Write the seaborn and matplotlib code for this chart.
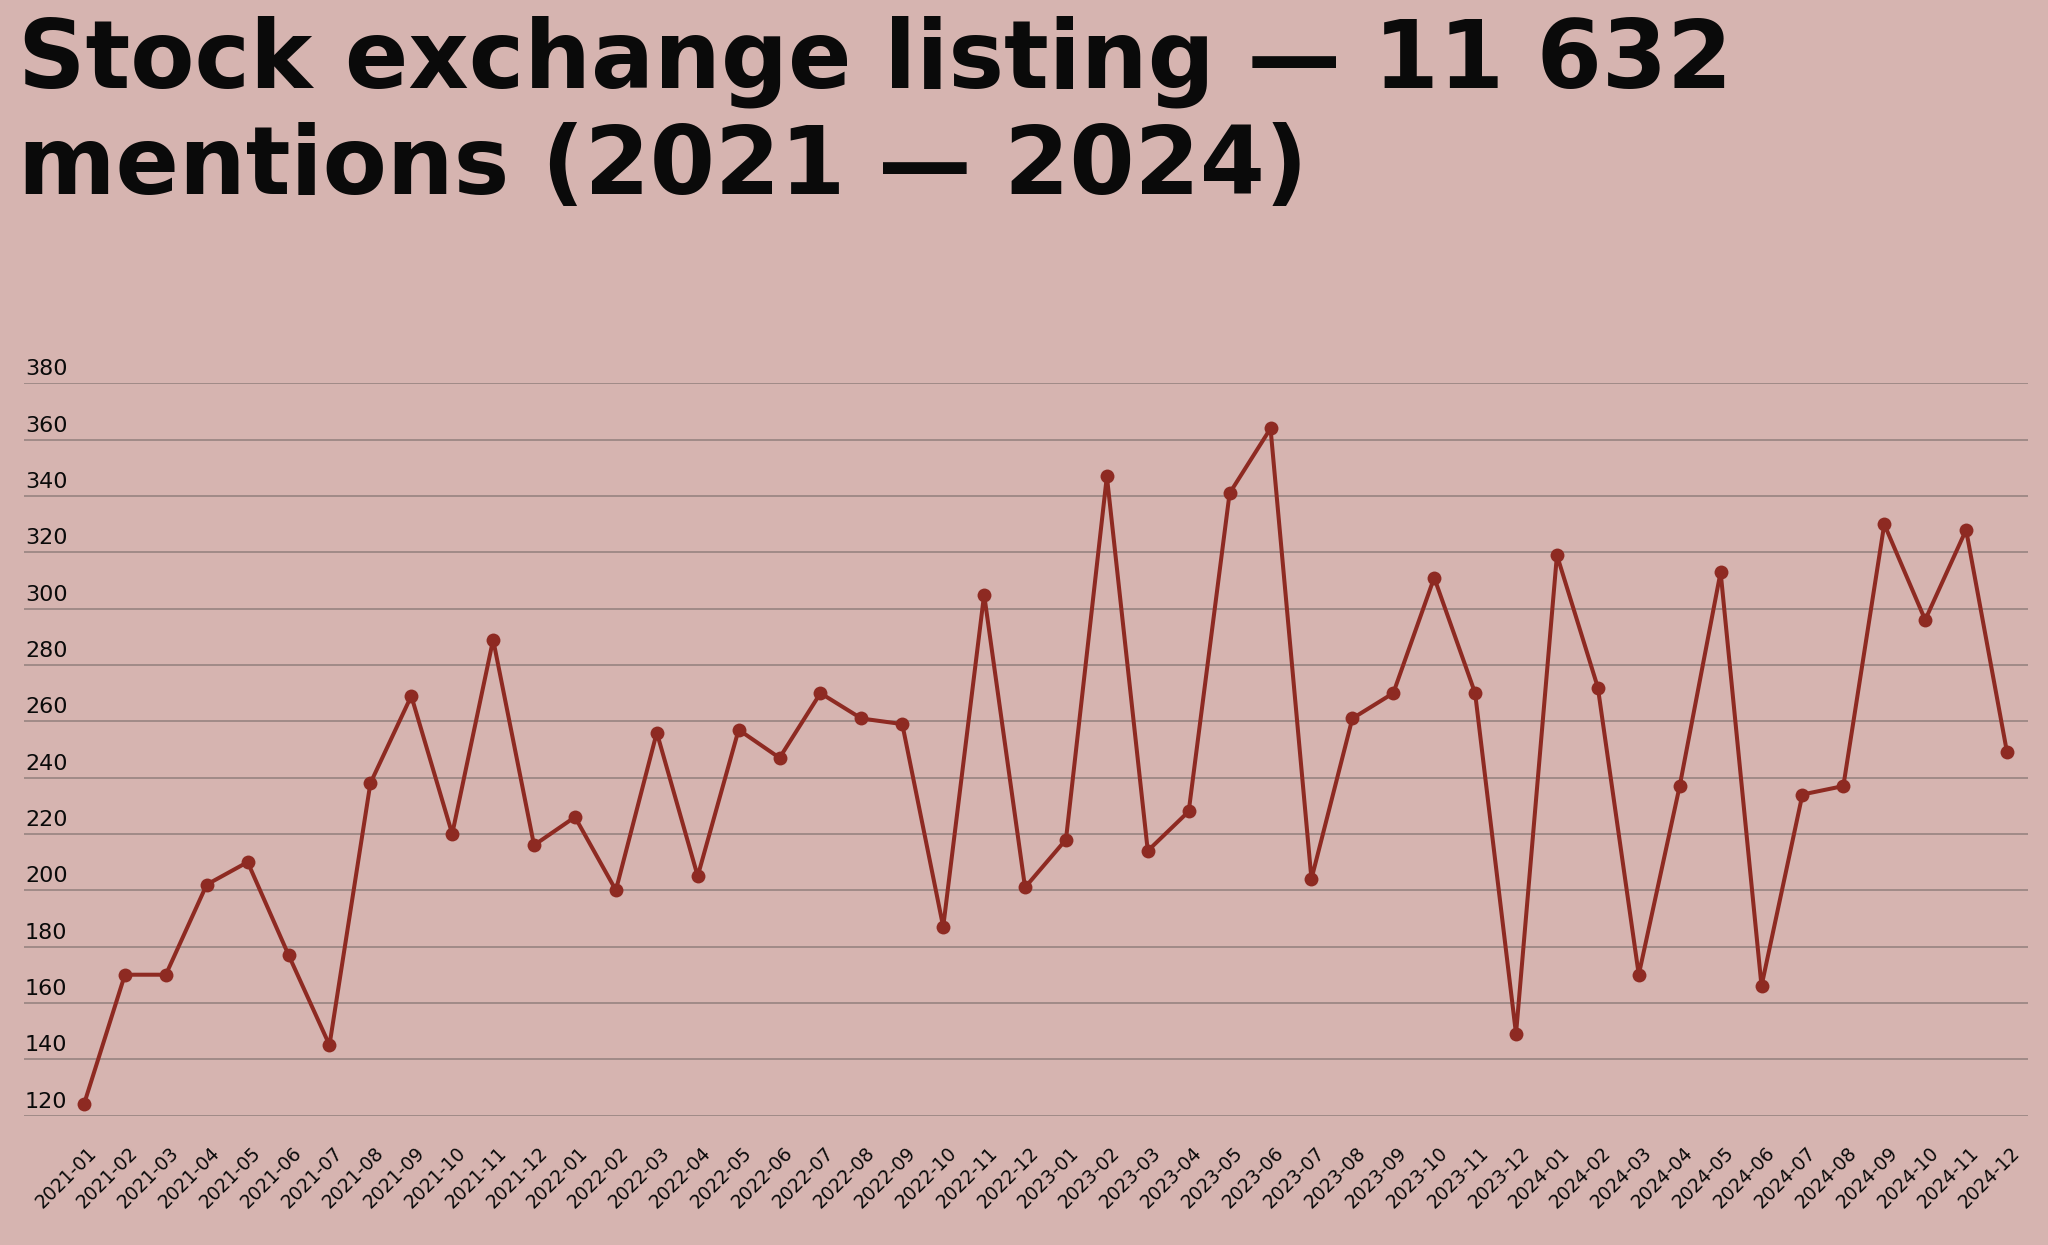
import numpy as np
import pandas as pd
import matplotlib
matplotlib.use("Agg")
import matplotlib.pyplot as plt
import matplotlib.transforms as mtransforms
import seaborn as sns

# ---- data ----
months = [f"{y}-{m:02d}" for y in (2021, 2022, 2023, 2024) for m in range(1, 13)]
mentions_2021 = [124, 170, 170, 202, 210, 177, 145, 238, 269, 220, 289, 216]
mentions_2022 = [226, 200, 256, 205, 257, 247, 270, 261, 259, 187, 305, 201]
mentions_2023 = [218, 347, 214, 228, 341, 364, 204, 261, 270, 311, 270, 149]
mentions_2024 = [319, 272, 170, 237, 313, 166, 234, 237, 330, 296, 328, 249]
mentions = mentions_2021 + mentions_2022 + mentions_2023 + mentions_2024
yticks = [120, 140, 160, 180, 200, 220, 240, 260, 280, 300, 320, 340, 360, 380]
title_line1 = "Stock exchange listing \u2014 11 632"
title_line2 = "mentions (2021 \u2014 2024)"

df = pd.DataFrame({"idx": np.arange(len(months)), "month": months, "mentions": mentions})

BG = "#D6B4B0"
LINE = "#8E2A22"
GRID = "#A08A87"
TXT = "#0A0A0A"

sns.set_theme(style="white")
plt.rcParams["font.family"] = ["DejaVu Sans"]

W, H, DPI = 2048, 1245, 100
fig = plt.figure(figsize=(W / DPI, H / DPI), dpi=DPI, facecolor=BG)
ax = fig.add_axes([24 / W, 1 - 1115.5 / H, 2004 / W, (1115.5 - 383.4) / H])
ax.set_facecolor(BG)

sns.lineplot(data=df, x="idx", y="mentions", ax=ax, color=LINE, linewidth=2.9,
             marker="o", markersize=10, markeredgewidth=0, markeredgecolor=LINE,
             zorder=3)

ax.set_xlim(-1.466, 47.513)
ax.set_ylim(120, 380)
for s in ax.spines.values():
    s.set_visible(False)

ax.set_yticks(yticks)
ax.set_yticklabels([str(v) for v in yticks])
ax.yaxis.grid(True, color=GRID, linewidth=1.4)
ax.xaxis.grid(False)
ax.tick_params(axis="y", length=0, pad=0, labelsize=16, labelcolor=TXT)
for lab in ax.get_yticklabels():
    lab.set_horizontalalignment("left")
    lab.set_verticalalignment("bottom")
    lab.set_transform(lab.get_transform() + mtransforms.ScaledTranslation(1 / DPI, 4 / DPI, fig.dpi_scale_trans))

ax.set_xticks(df["idx"])
ax.set_xticklabels(months, rotation=45, ha="right")
ax.tick_params(axis="x", length=0, pad=20, labelsize=13.5, labelcolor=TXT)
for lab in ax.get_xticklabels():
    lab.set_transform(lab.get_transform() + mtransforms.ScaledTranslation(17 / DPI, 0, fig.dpi_scale_trans))
ax.set_xlabel("")
ax.set_ylabel("")

# title, fitted to reference width
t1 = fig.text(18 / W, 1 - 88 / H, title_line1, fontsize=60, fontweight="bold",
              color=TXT, va="baseline", ha="left")
t2 = fig.text(18 / W, 1 - 194 / H, title_line2, fontsize=60, fontweight="bold",
              color=TXT, va="baseline", ha="left")
fig.canvas.draw()
r = fig.canvas.get_renderer()
w1 = t1.get_window_extent(r).width
fs = 60 * 1715 / w1
t1.set_fontsize(fs)
t2.set_fontsize(fs)

fig.savefig("out.png", dpi=DPI, facecolor=BG)
